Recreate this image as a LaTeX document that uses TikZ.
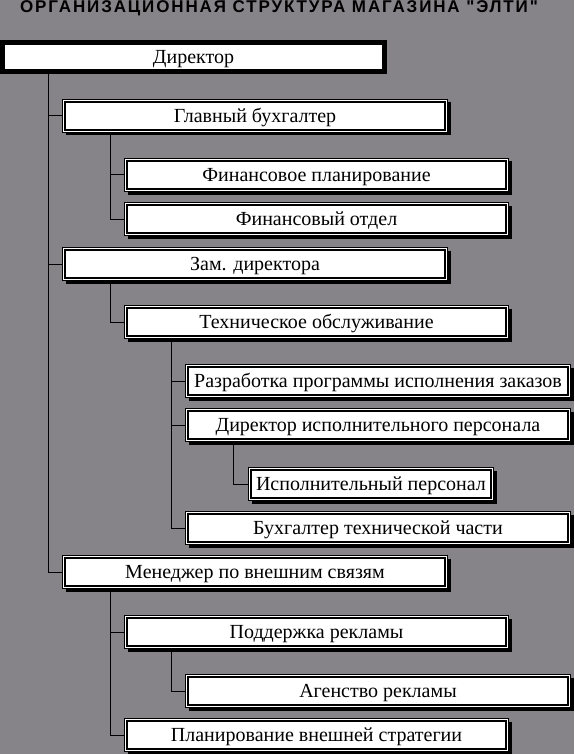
\documentclass[tikz,border=0pt]{standalone}
\usepackage{fontspec}
\setmainfont{Liberation Serif}
\newfontfamily\titlefont[LetterSpace=11]{Liberation Sans}
\definecolor{bg}{RGB}{134,131,137}
\tikzset{
  box/.style={draw=black, line width=1pt, fill=white, inner sep=0pt, outer sep=0pt,
    minimum height=33pt, text height=13pt, text depth=0pt,
    font=\fontsize{20}{20}\selectfont,
    preaction={fill=black, transform canvas={shift={(3pt,-3pt)}}}},
  lone/.style={box, minimum width=385pt},
  ltwo/.style={box, minimum width=384pt},
  lthree/.style={box, minimum width=385pt},
  lfour/.style={box, minimum width=245pt},
  topbox/.style={draw=black, line width=5pt, fill=white, inner sep=0pt, outer sep=0pt,
    minimum width=382pt, minimum height=28.7pt, text height=13pt, text depth=0pt,
    font=\fontsize{20}{20}\selectfont,
    preaction={fill=black, transform canvas={shift={(2pt,-2pt)}}}},
  conn/.style={draw=black, line width=1pt},
  innerline/.style={draw=black, line width=2pt},
}
\begin{document}
\begin{tikzpicture}[x=1pt,y=-1pt]
\useasboundingbox (0,0) rectangle (574,754);
\fill[bg] (0,0) rectangle (574,754);
\node[font=\titlefont\bfseries\fontsize{17}{17}\selectfont, anchor=base, inner sep=0pt] (title) at (279,12.5) {ОРГАНИЗАЦИОННАЯ СТРУКТУРА МАГАЗИНА "ЭЛТИ"};

\node[topbox] (director) at (193.5,56.9) {Директор};
\node[lone] (gb) at (255,116) {Главный бухгалтер};
\node[ltwo] (fp) at (316.5,175) {Финансовое планирование};
\node[ltwo] (fo) at (316.5,219) {Финансовый отдел};
\node[lone] (zam) at (255,264) {Зам. директора};
\node[ltwo] (tech) at (316.5,322) {Техническое обслуживание};
\node[lthree] (razr) at (378,381) {Разработка программы исполнения заказов};
\node[lthree] (dirp) at (378,425) {Директор исполнительного персонала};
\node[lfour] (isp) at (371,484) {Исполнительный персонал};
\node[lthree] (buh) at (378,528) {Бухгалтер технической части};
\node[lone] (men) at (255,572) {Менеджер по внешним связям};
\node[ltwo] (podd) at (316.5,632) {Поддержка рекламы};
\node[lthree] (ag) at (378,691) {Агенство рекламы};
\node[ltwo] (plan) at (316.5,735) {Планирование внешней стратегии};

\foreach \n in {gb,fp,fo,zam,tech,razr,dirp,isp,buh,men,podd,ag,plan}
  \draw[innerline] ([xshift=2.75pt,yshift=-2.75pt]\n.north west) rectangle ([xshift=-2.75pt,yshift=2.75pt]\n.south east);

\draw[conn] ([xshift=46pt]director.south west) |- (gb.west);
\draw[conn] ([xshift=46pt]director.south west) |- (zam.west);
\draw[conn] ([xshift=46pt]director.south west) |- (men.west);
\draw[conn] ([xshift=48pt]gb.south west) |- (fp.west);
\draw[conn] ([xshift=48pt]gb.south west) |- (fo.west);
\draw[conn] ([xshift=48pt]zam.south west) |- (tech.west);
\draw[conn] ([xshift=47pt]tech.south west) |- (razr.west);
\draw[conn] ([xshift=47pt]tech.south west) |- (dirp.west);
\draw[conn] ([xshift=47pt]tech.south west) |- (buh.west);
\draw[conn] ([xshift=48pt]dirp.south west) |- (isp.west);
\draw[conn] ([xshift=48pt]men.south west) |- (podd.west);
\draw[conn] ([xshift=48pt]men.south west) |- (plan.west);
\draw[conn] ([xshift=47pt]podd.south west) |- (ag.west);
\end{tikzpicture}
\end{document}
